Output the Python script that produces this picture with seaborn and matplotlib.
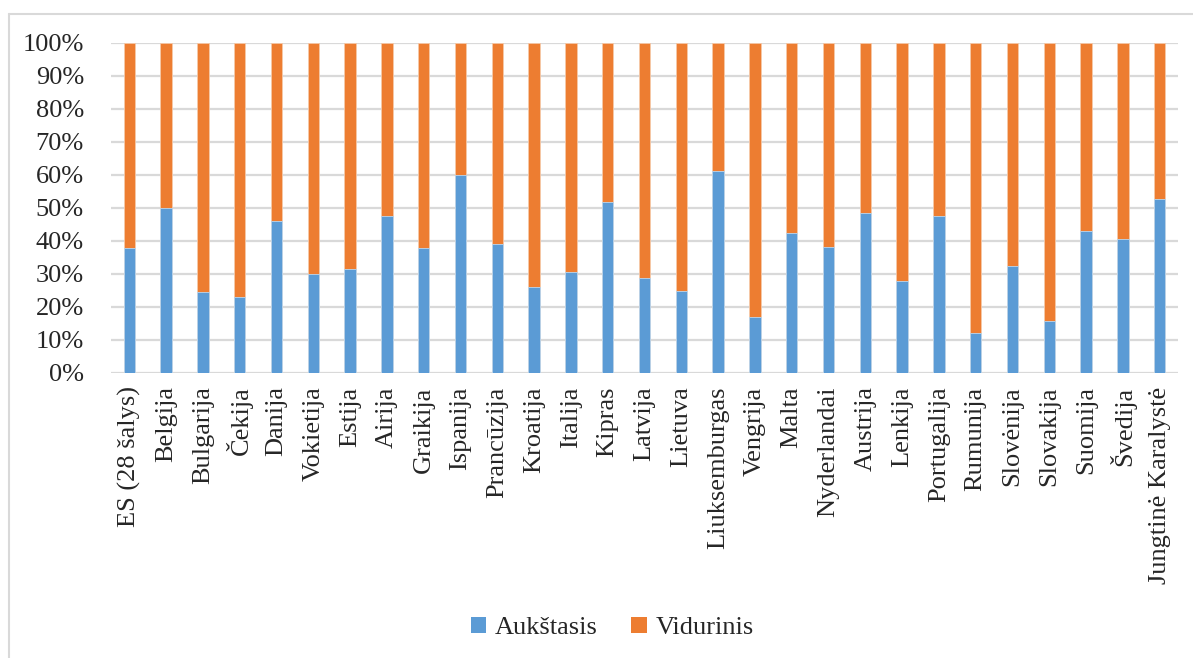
import matplotlib
matplotlib.use("Agg")
import matplotlib.pyplot as plt
from matplotlib.patches import Patch
from matplotlib.lines import Line2D
import seaborn as sns
import pandas as pd

countries = [
    "ES (28 šalys)", "Belgija", "Bulgarija", "Čekija", "Danija", "Vokietija",
    "Estija", "Airija", "Graikija", "Ispanija", "Prancūzija", "Kroatija",
    "Italija", "Kipras", "Latvija", "Lietuva", "Liuksemburgas", "Vengrija",
    "Malta", "Nyderlandai", "Austrija", "Lenkija", "Portugalija", "Rumunija",
    "Slovėnija", "Slovakija", "Suomija", "Švedija", "Jungtinė Karalystė",
]
aukstasis = [
    37.6, 49.8, 24.5, 22.9, 45.9, 29.8, 31.5, 47.6, 37.9, 60.0, 39.0, 25.9,
    30.5, 51.8, 28.6, 24.6, 61.1, 16.8, 42.3, 38.2, 48.5, 27.6, 47.6, 12.0,
    32.2, 15.6, 42.9, 40.6, 52.5,
]
vidurinis = [
    62.4, 50.2, 75.5, 77.1, 54.1, 70.2, 68.5, 52.4, 62.1, 40.0, 61.0, 74.1,
    69.5, 48.2, 71.4, 75.4, 38.9, 83.2, 57.7, 61.8, 51.5, 72.4, 52.4, 88.0,
    67.8, 84.4, 57.1, 59.4, 47.5,
]
series_names = ["Aukštasis", "Vidurinis"]
yticks = [0, 10, 20, 30, 40, 50, 60, 70, 80, 90, 100]

BLUE = "#5B9BD5"
ORANGE = "#ED7D31"
GRID = "#D9D9D9"
FS = 19

df = pd.DataFrame({"country": countries, "a": aukstasis, "v": vidurinis})
df["total"] = df["a"] + df["v"]

sns.set_style("white")
plt.rcParams["font.family"] = ["Liberation Serif", "DejaVu Serif"]
plt.rcParams["font.size"] = FS

fig = plt.figure(figsize=(11.93, 6.58), dpi=100)
ax = fig.add_axes([111 / 1193, 1 - 372.5 / 658, (1178 - 111) / 1193, (372.5 - 42.7) / 658])

# stacked: full-height orange segment underneath, blue lower segment on top
sns.barplot(data=df, x="country", y="total", color=ORANGE, saturation=1,
            width=0.31, edgecolor="#F6C9A8", linewidth=0.6, ax=ax, zorder=2)
sns.barplot(data=df, x="country", y="a", color=BLUE, saturation=1,
            width=0.31, edgecolor="#BDD7EE", linewidth=0.6, ax=ax, zorder=3)

ax.set_xlim(-0.5, len(countries) - 0.5)
ax.set_ylim(0, 100)
ax.set_yticks(yticks)
ax.set_yticklabels([f"{t}%" for t in yticks])
ax.yaxis.grid(True, color=GRID, linewidth=1.6, zorder=0)
ax.set_axisbelow(True)
ax.tick_params(axis="y", length=0, pad=19.5, labelsize=FS)
ax.tick_params(axis="x", length=0, pad=10, labelsize=FS)
ax.set_xticks(range(len(countries)))
ax.set_xticklabels(countries, rotation=90, va="top", ha="center")
ax.set_xlabel("")
ax.set_ylabel("")
for s in ax.spines.values():
    s.set_visible(False)

handles = [Patch(facecolor=BLUE, edgecolor="none"),
           Patch(facecolor=ORANGE, edgecolor="none")]
fig.legend(handles, series_names, loc="center",
           bbox_to_anchor=(612 / 1193, 1 - 628 / 658), ncol=2, frameon=False,
           handlelength=0.6, handleheight=0.6, handletextpad=0.3,
           columnspacing=1.3, fontsize=FS)

# chart area outline (left and top edges)
fig.add_artist(Line2D([8.5 / 1193, 8.5 / 1193], [0, 1 - 14 / 658],
                      color=GRID, linewidth=1.5, transform=fig.transFigure))
fig.add_artist(Line2D([8.5 / 1193, 1], [1 - 14 / 658, 1 - 14 / 658],
                      color=GRID, linewidth=1.5, transform=fig.transFigure))

fig.savefig("out.png", dpi=100, facecolor="white")
